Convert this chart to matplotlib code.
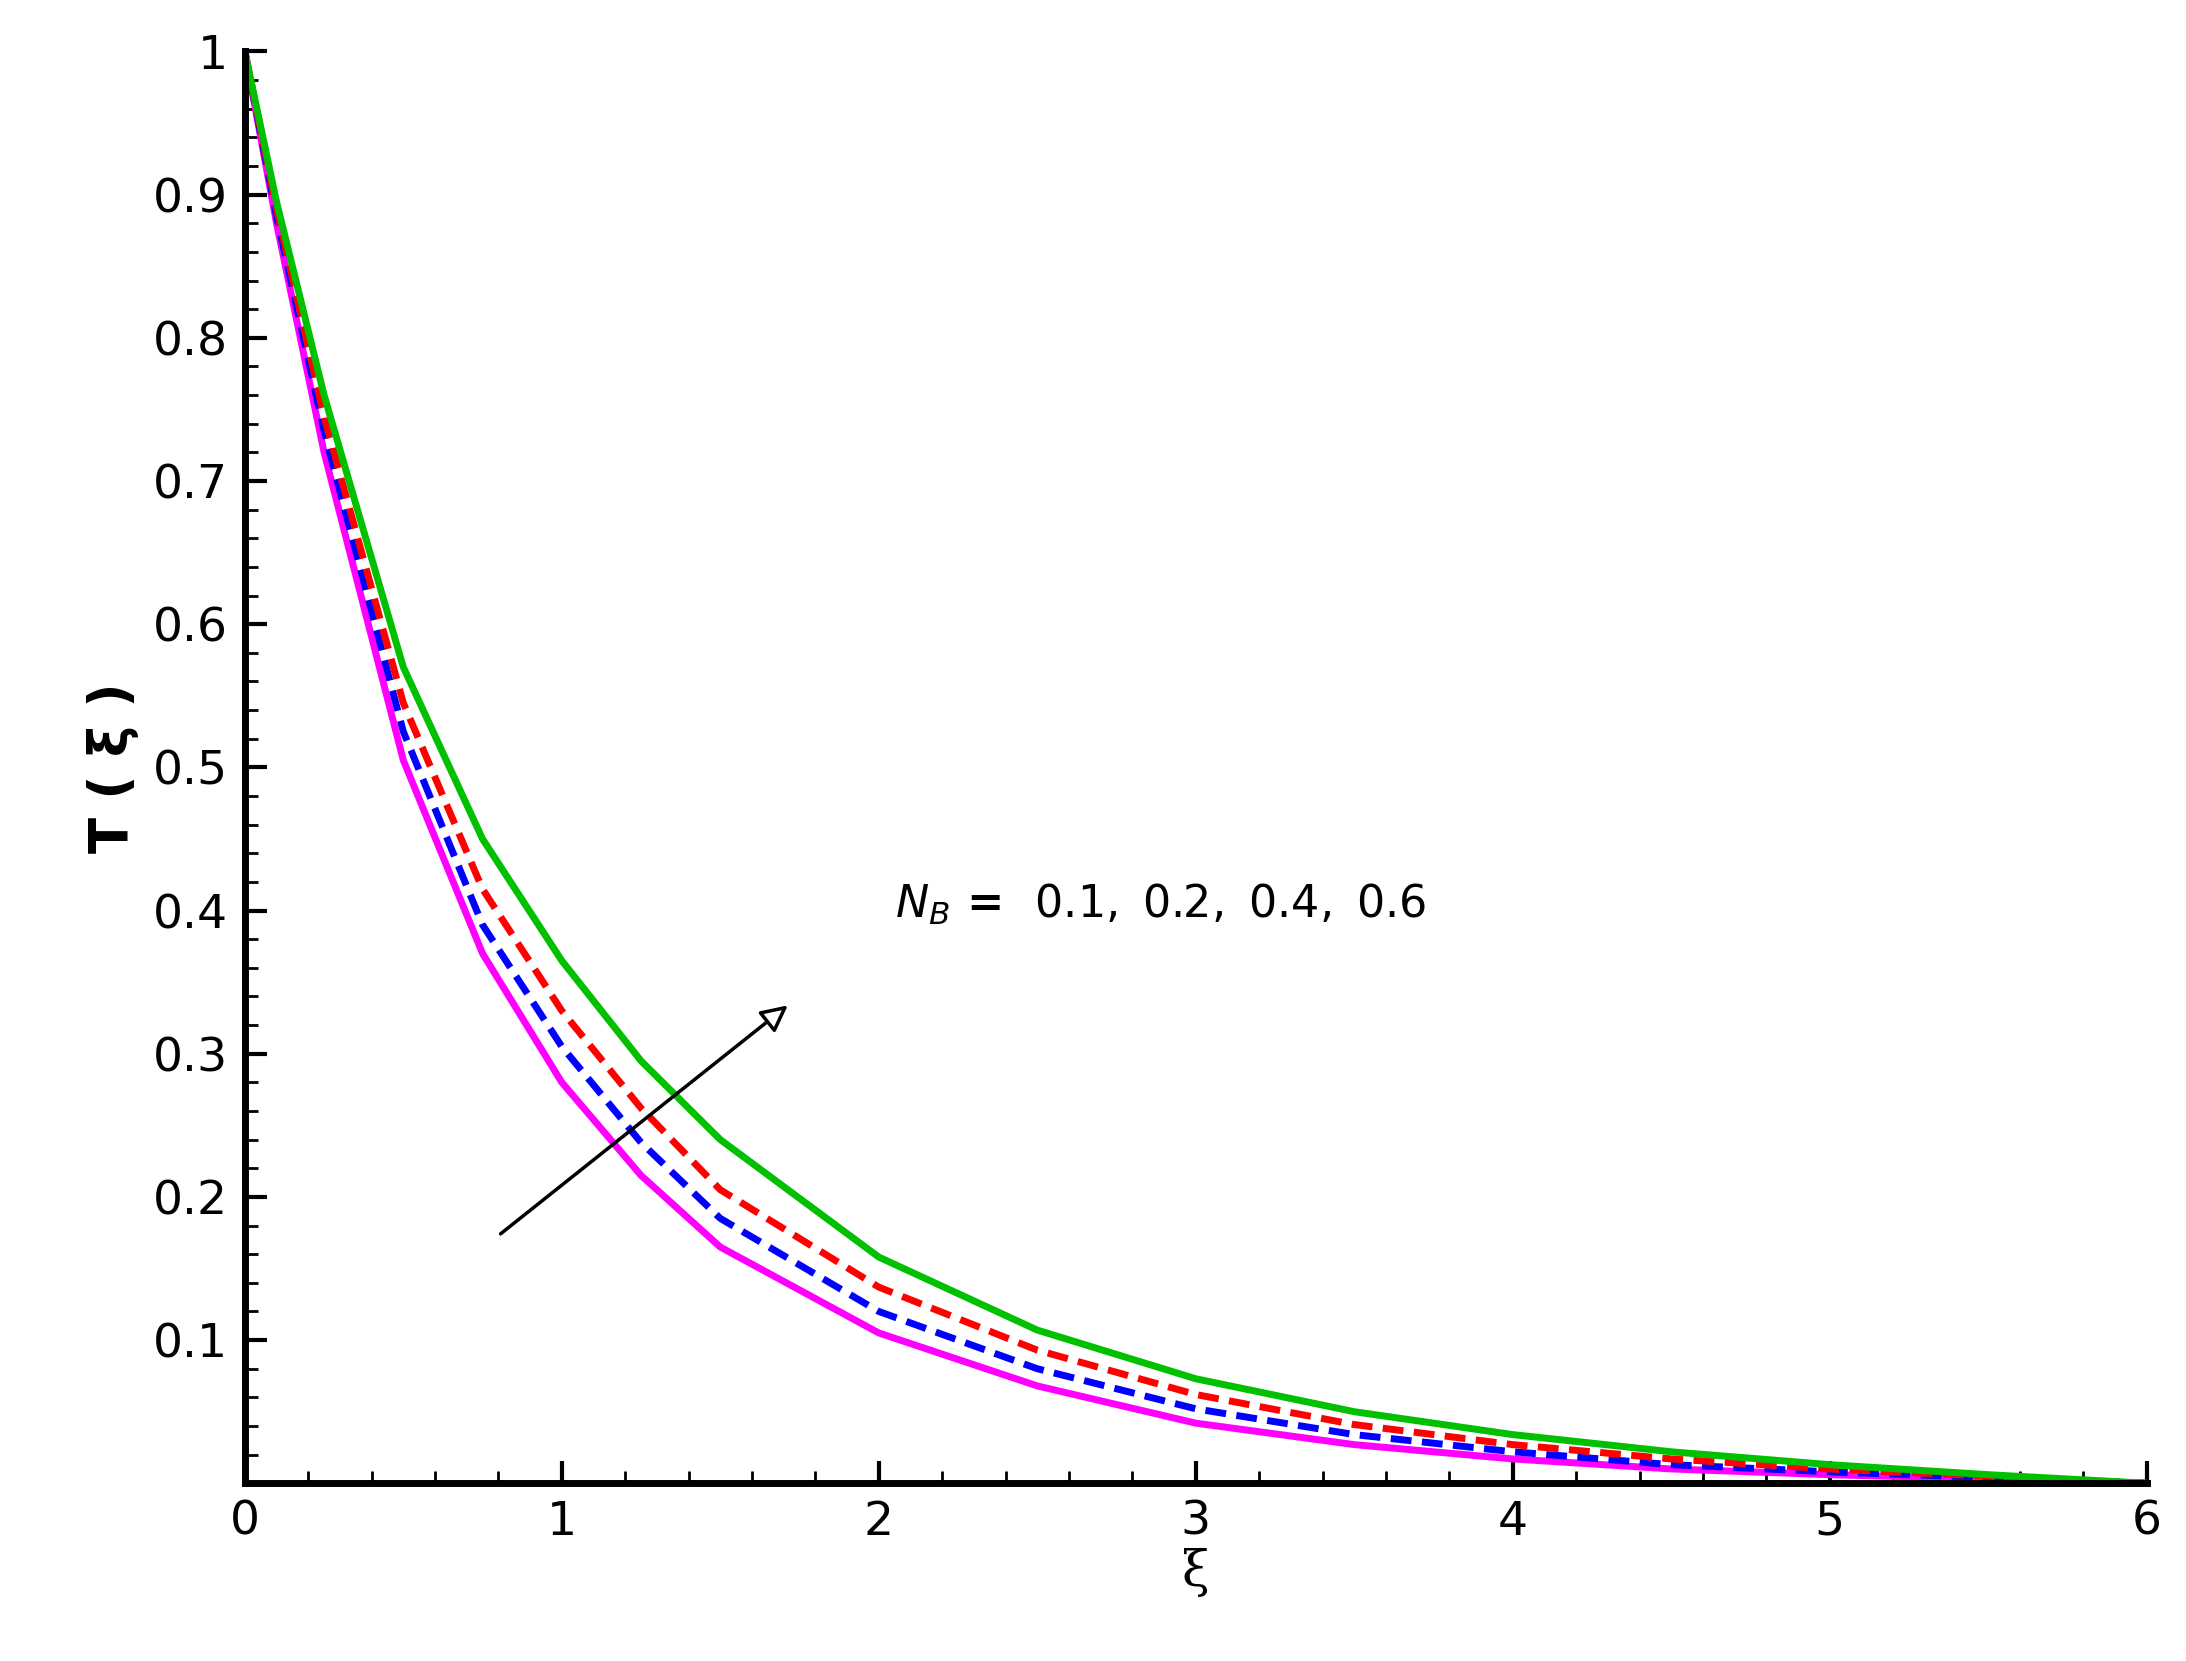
import matplotlib.pyplot as plt
import numpy as np
from matplotlib.ticker import MultipleLocator

xi = [0, 0.1, 0.25, 0.5, 0.75, 1.0, 1.25, 1.5, 2.0, 2.5, 3.0, 3.5, 4.0, 4.5, 5.0, 5.5, 6.0]
T_01 = [1.0, 0.88, 0.72, 0.505, 0.37, 0.28, 0.215, 0.165, 0.105, 0.068, 0.042, 0.027, 0.017, 0.010, 0.006, 0.003, 0.0]
T_02 = [1.0, 0.885, 0.735, 0.525, 0.39, 0.305, 0.238, 0.185, 0.120, 0.080, 0.052, 0.034, 0.022, 0.013, 0.008, 0.004, 0.0]
T_04 = [1.0, 0.89, 0.745, 0.545, 0.415, 0.33, 0.262, 0.205, 0.137, 0.093, 0.062, 0.041, 0.027, 0.017, 0.010, 0.005, 0.0]
T_06 = [1.0, 0.895, 0.76, 0.57, 0.45, 0.365, 0.295, 0.24, 0.158, 0.107, 0.073, 0.050, 0.034, 0.022, 0.013, 0.006, 0.0]

fig = plt.figure(figsize=(21.86, 16.61), dpi=100)
ax = fig.add_axes([0.112, 0.107, 0.87, 0.862])

ax.plot(xi, T_01, color="magenta", lw=5)
ax.plot(xi, T_02, color="blue", lw=5, ls=(0, (3, 1.5)))
ax.plot(xi, T_04, color="red", lw=5, ls=(0, (3, 1.5)))
ax.plot(xi, T_06, color="#00c000", lw=5)

ax.set_xlim(0, 6)
ax.set_ylim(0, 1)
ax.xaxis.set_major_locator(MultipleLocator(1))
ax.xaxis.set_minor_locator(MultipleLocator(0.2))
ax.yaxis.set_major_locator(MultipleLocator(0.1))
ax.yaxis.set_minor_locator(MultipleLocator(0.02))
ax.set_yticks(np.arange(0.1, 1.01, 0.1))
ax.set_yticklabels(["0.1", "0.2", "0.3", "0.4", "0.5", "0.6", "0.7", "0.8", "0.9", "1"])
ax.tick_params(which="major", direction="in", length=16, width=3, labelsize=34, pad=12)
ax.tick_params(which="minor", direction="in", length=9, width=2)
for s in ["top", "right"]:
    ax.spines[s].set_visible(False)
for s in ["left", "bottom"]:
    ax.spines[s].set_linewidth(5)

ax.set_xlabel("ξ", fontsize=36, labelpad=2, family="DejaVu Serif")
ax.set_ylabel("T ( ξ )", fontsize=38, fontweight="bold", labelpad=10)

ax.text(2.05, 0.395, r"$\mathbf{\mathit{N_B}}$ =  $\mathbf{\mathit{0.1,\ 0.2,\ 0.4,\ 0.6}}$",
        fontsize=32, family="serif", fontweight="bold")
ax.annotate("", xy=(1.72, 0.335), xytext=(0.8, 0.173),
            arrowprops=dict(arrowstyle="-|>,head_length=1.6,head_width=0.8",
                            fc="white", ec="black", lw=2.5))

fig.savefig("out.png", dpi=100)
